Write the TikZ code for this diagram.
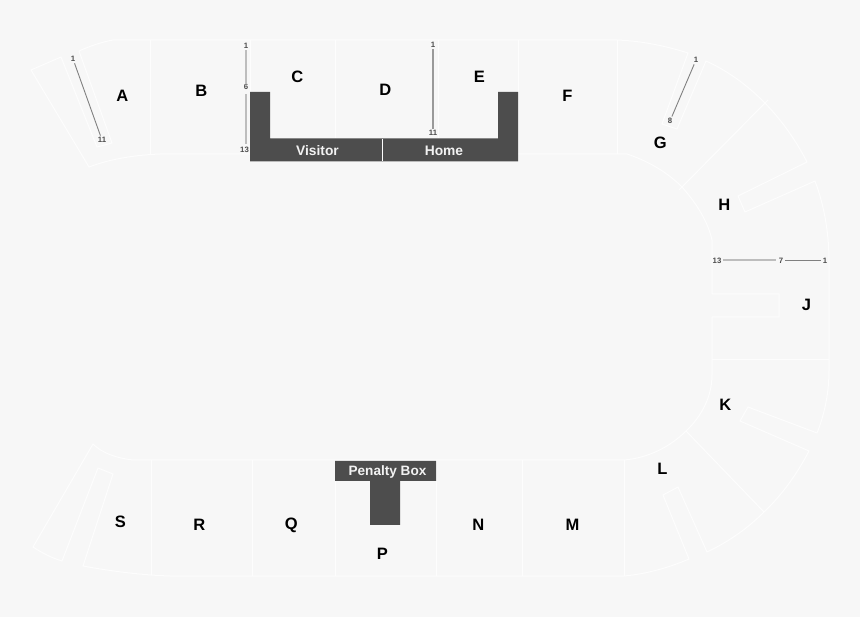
\documentclass[tikz,border=0pt]{standalone}
\usepackage{fontspec}
\setmainfont{Liberation Sans}
\definecolor{bgc}{HTML}{F7F7F7}
\definecolor{linec}{HTML}{FDFDFD}
\definecolor{boxc}{HTML}{4D4D4D}
\definecolor{seatlight}{HTML}{BDBDBD}
\definecolor{seatdark}{HTML}{808080}
\tikzset{
  seatline/.style={draw=linec,line width=1pt,line join=round},
  solidbox/.style={fill=boxc,draw=none},
  seclabel/.style={font=\fontsize{16.5}{16.5}\selectfont\bfseries,text=black,inner sep=0pt,xshift=0.4pt},
  boxlabel/.style={font=\fontsize{13.8}{14}\selectfont\bfseries,text=white!95!black,inner sep=0pt},
  rownum/.style={font=\fontsize{7.8}{8}\selectfont\bfseries,text=black!70,inner sep=1.5pt},
  rowlight/.style={draw=seatlight,line width=1.3pt},
  rowdark/.style={draw=seatdark,line width=0.9pt},
}
\begin{document}
\begin{tikzpicture}[x=1pt,y=-1pt]
\useasboundingbox[fill=bgc] (0,0) rectangle (860,617);

% upper stand, outline
\draw[seatline] (79,51) .. controls (90,46) and (102,42) .. (113,40) -- (617,40)
  .. controls (642,41) and (666,46) .. (688,53) -- (662,124) -- (677,129) -- (706,61)
  .. controls (746,79) and (783,115) .. (807,162) -- (738,196) -- (745,212) -- (815,181)
  .. controls (824,205) and (829,232) .. (829,262) -- (829,370)
  .. controls (829,392) and (825,413) .. (817,433) -- (748,407) -- (740,421) -- (809,451)
  .. controls (797,474) and (782,495) .. (764,512)
  .. controls (747,529) and (728,542) .. (707,552) -- (678,487) -- (663,495) -- (689,559)
  .. controls (668,568) and (646,574) .. (624,576) -- (170,576)
  .. controls (140,575) and (110,571) .. (83,566) -- (113,474) -- (98,468) -- (62,561)
  .. controls (52,558) and (42,553) .. (33,547) -- (93,444)
  .. controls (102,453) and (116,458) .. (133,460) -- (624,460)
  .. controls (648,458) and (670,447) .. (686,431)
  .. controls (702,416) and (712,396) .. (712,375) -- (712,317) -- (779,317) -- (779,294) -- (712,294) -- (712,240)
  .. controls (708,222) and (697,204) .. (682,187)
  .. controls (667,172) and (648,161) .. (627,154) -- (518,154);
\draw[seatline] (250,154) -- (160,154) .. controls (135,155) and (110,159) .. (89,167)
  -- (31,70) -- (61,57) -- (97,147) -- (112,143) -- (79,51);

% dividers
\draw[seatline] (150.5,40) -- (150.5,154);
\draw[seatline] (250,40) -- (250,92);
\draw[seatline] (335,40) -- (335,138);
\draw[seatline] (438,40) -- (438,138);
\draw[seatline] (518,40) -- (518,92);
\draw[seatline] (617,40) -- (617,154);
\draw[seatline] (768,100) -- (679,190);
\draw[seatline] (712,360) -- (829,360);
\draw[seatline] (764,512) -- (686,431);
\draw[seatline] (624,460) -- (624,576);
\draw[seatline] (522,460) -- (522,576);
\draw[seatline] (436,460) -- (436,576);
\draw[seatline] (335,481) -- (335,576);
\draw[seatline] (252,460) -- (252,576);
\draw[seatline] (151,460) -- (151,575);

% benches
\fill[solidbox] (250,92) -- (270,92) -- (270,138.5) -- (498,138.5) -- (498,92) -- (518,92)
  -- (518,161.5) -- (250,161.5) -- cycle;
\draw[draw=linec,line width=0.6pt] (382.5,139) -- (382.5,161.5);
\node[boxlabel] (visitor) at (317.5,150.5) {Visitor};
\node[boxlabel] (home) at (444,150.8) {Home};

\fill[solidbox] (335,461) -- (436,461) -- (436,481) -- (400,481) -- (400,525) -- (370,525)
  -- (370,481) -- (335,481) -- cycle;
\node[boxlabel,font=\fontsize{13.6}{14}\selectfont\bfseries] (penalty) at (387.5,471.5) {Penalty Box};

% row numbers and row lines
\node[rownum] (a1) at (73,59) {1};
\node[rownum] (a11) at (102,140) {11};
\draw[rowdark] (a1) -- (a11);
\node[rownum] (b1) at (246,46) {1};
\node[rownum] (b6) at (246,87) {6};
\node[rownum] (b13) at (244.5,150) {13};
\draw[rowlight] (b1) -- (b6);
\draw[rowlight] (246,94) -- (246,144);
\node[rownum] (e1) at (433,45) {1};
\node[rownum] (e11) at (433,133) {11};
\draw[seatdark!80!white,line width=1.1pt] (e1) -- (e11);
\node[rownum] (g1) at (696,60) {1};
\node[rownum] (g8) at (670,121) {8};
\draw[rowdark] (g1) -- (g8);
\node[rownum] (j13) at (717,261) {13};
\node[rownum] (j7) at (781,261) {7};
\node[rownum] (j1) at (825,261) {1};
\draw[rowlight] (723,260) -- (776,260);
\draw[rowdark] (785,260) -- (821,260);

% section letters
\node[seclabel] (A) at (122,96) {A};
\node[seclabel] (B) at (201,91) {B};
\node[seclabel] (C) at (297,77) {C};
\node[seclabel] (D) at (385,90) {D};
\node[seclabel] (E) at (479,77) {E};
\node[seclabel] (F) at (567,96) {F};
\node[seclabel] (G) at (660,143) {G};
\node[seclabel] (H) at (724,205) {H};
\node[seclabel] (J) at (806,305) {J};
\node[seclabel] (K) at (725,405) {K};
\node[seclabel] (L) at (662,469) {L};
\node[seclabel] (M) at (572,525) {M};
\node[seclabel] (N) at (478,525) {N};
\node[seclabel] (P) at (382,554) {P};
\node[seclabel] (Q) at (291,525) {Q};
\node[seclabel] (R) at (199,525) {R};
\node[seclabel] (S) at (120,522) {S};
\end{tikzpicture}
\end{document}
